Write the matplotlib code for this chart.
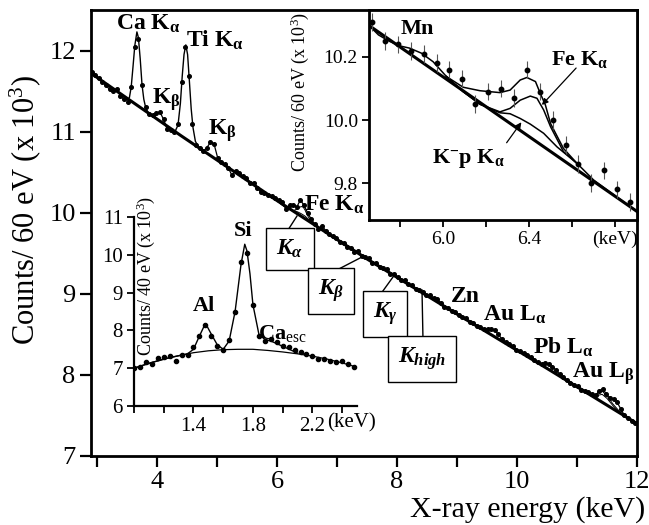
import numpy as np
import matplotlib
matplotlib.use('Agg')
import matplotlib.pyplot as plt
from matplotlib.lines import Line2D
from matplotlib.patches import FancyArrowPatch

plt.rcParams['font.family'] = ['Liberation Serif', 'DejaVu Serif']
plt.rcParams['mathtext.fontset'] = 'custom'
plt.rcParams['mathtext.rm'] = 'Liberation Serif'
plt.rcParams['mathtext.it'] = 'Liberation Serif:italic:bold'
plt.rcParams['mathtext.bf'] = 'Liberation Serif:bold'

W, H = 649, 525

# ---------------- main spectrum (counts / 60 eV, x 10^3) ----------------
E_start, E_step = 2.91, 0.06
counts = [
    11.73, 11.70, 11.66, 11.61, 11.57, 11.52, 11.50, 11.53, 11.44, 11.40,
    11.37, 11.55, 12.04, 12.14, 11.57, 11.30, 11.22, 11.20, 11.23, 11.24,
    11.15, 11.03, 11.02, 11.00, 11.10, 11.61, 12.04, 11.69, 11.10, 10.84,
    10.80, 10.76, 10.80, 10.87, 10.85, 10.68, 10.63, 10.60, 10.55, 10.46,
    10.52, 10.49, 10.45, 10.43, 10.37, 10.37, 10.31, 10.25, 10.24, 10.22,
    10.21, 10.18, 10.16, 10.13, 10.05, 10.09, 10.10, 10.07, 10.16, 10.09,
    10.00, 9.92, 9.86, 9.80, 9.84, 9.78, 9.74, 9.71, 9.69, 9.64,
    9.63, 9.58, 9.57, 9.52, 9.53, 9.47, 9.46, 9.44, 9.38, 9.38,
    9.33, 9.32, 9.30, 9.25, 9.24, 9.21, 9.17, 9.17, 9.12, 9.11,
    9.06, 9.05, 9.02, 8.98, 8.98, 8.95, 8.94, 8.89, 8.84, 8.83,
    8.79, 8.78, 8.74, 8.72, 8.70, 8.65, 8.64, 8.60, 8.59, 8.57,
    8.57, 8.56, 8.55, 8.50, 8.44, 8.41, 8.38, 8.36, 8.31, 8.29,
    8.27, 8.25, 8.22, 8.19, 8.16, 8.14, 8.15, 8.13, 8.10, 8.06,
    8.01, 7.97, 7.94, 7.90, 7.88, 7.86, 7.82, 7.80, 7.79, 7.77,
    7.75, 7.80, 7.83, 7.76, 7.72, 7.70, 7.66, 7.58, 7.50, 7.47,
    7.43, 7.41,
]
energy = E_start + E_step * np.arange(len(counts))
counts = np.array(counts)

bg_E = [2.9, 4.4, 6.0, 7.5, 9.0, 10.5, 12.0]
bg_counts = [11.72, 10.95, 10.15, 9.43, 8.75, 8.08, 7.40]

# fitted curves over the Ca K-alpha and Ti K-alpha peaks
ca_fit_E = [3.50, 3.54, 3.57, 3.60, 3.63, 3.665, 3.69, 3.72, 3.75, 3.78, 3.81, 3.86]
ca_fit = [11.39, 11.42, 11.55, 11.80, 12.06, 12.23, 12.16, 11.90, 11.58, 11.40, 11.30, 11.22]
ti_fit_E = [4.30, 4.35, 4.39, 4.42, 4.45, 4.48, 4.51, 4.54, 4.57, 4.60, 4.64, 4.70]
ti_fit = [11.00, 11.08, 11.35, 11.68, 11.95, 12.07, 11.95, 11.62, 11.28, 11.05, 10.88, 10.80]

# fitted components around Au L-beta
au_fit_E = [11.24, 11.36, 11.42, 11.50, 11.60, 11.72, 11.80]
au_fit1 = [7.74, 7.78, 7.80, 7.74, 7.64, 7.54, 7.50]
au_fit2 = [7.74, 7.75, 7.76, 7.71, 7.62, 7.53, 7.50]

# ---------------- inset 1 : Fe K-alpha / K-p region ----------------
in1_err = 0.028
in1_bg_E = [5.656, 6.902]
in1_bg = [10.30, 9.71]
fit_tot_E = [5.656, 5.70, 5.75, 5.80, 5.845, 5.90, 5.954, 6.016, 6.094, 6.172,
             6.265, 6.312, 6.359, 6.39, 6.43, 6.452, 6.476, 6.50, 6.56, 6.624,
             6.70, 6.80, 6.902]
fit_tot = [10.30, 10.27, 10.25, 10.235, 10.228, 10.212, 10.185, 10.138, 10.104, 10.093,
           10.087, 10.095, 10.127, 10.135, 10.122, 10.085, 10.048, 9.989, 9.91, 9.862,
           9.81, 9.76, 9.71]
fit_mid_E = [6.016, 6.094, 6.172, 6.265, 6.312, 6.359, 6.406, 6.437, 6.468, 6.50, 6.56, 6.624]
fit_mid = [10.138, 10.09, 10.05, 10.026, 10.037, 10.063, 10.076, 10.069, 10.032, 9.979, 9.90, 9.862]
fit_low_E = [6.016, 6.094, 6.172, 6.265, 6.312, 6.359, 6.406, 6.468, 6.53, 6.624]
fit_low = [10.138, 10.09, 10.05, 10.023, 10.02, 10.005, 9.987, 9.958, 9.915, 9.862]

# ---------------- inset 2 : Al / Si region (counts / 40 eV) ----------------
E2_start, E2_step = 1.00, 0.04
counts2 = [7.00, 7.04, 7.16, 7.11, 7.26, 7.29, 7.32, 7.20, 7.35, 7.36,
           7.55, 7.86, 8.13, 7.86, 7.60, 7.47, 7.75, 8.48, 9.80, 10.04,
           8.67, 7.86, 7.73, 7.77, 7.69, 7.60, 7.55, 7.49, 7.42, 7.38,
           7.33, 7.25, 7.25, 7.20, 7.16, 7.18, 7.11, 7.03]
energy2 = E2_start + E2_step * np.arange(len(counts2))
bg2_E = [1.0, 1.1, 1.2, 1.3, 1.4, 1.5, 1.6, 1.7, 1.8, 1.9, 2.0, 2.1, 2.2, 2.3, 2.4, 2.48]
bg2 = [7.00, 7.13, 7.24, 7.33, 7.41, 7.46, 7.49, 7.50, 7.50, 7.47, 7.43, 7.38, 7.32, 7.24, 7.14, 7.05]
fit2_E = [1.00, 1.12, 1.24, 1.36, 1.40, 1.44, 1.47, 1.49, 1.52, 1.56, 1.60, 1.64, 1.68,
          1.72, 1.745, 1.76, 1.78, 1.80, 1.84, 1.88, 1.92, 2.00, 2.10]
fit2 = [7.00, 7.15, 7.28, 7.38, 7.50, 7.85, 8.10, 8.12, 7.90, 7.62, 7.50, 7.72, 8.50,
        9.75, 10.28, 10.10, 9.50, 8.68, 7.90, 7.76, 7.72, 7.58, 7.40]

# ---------------- figure ----------------
fig = plt.figure(figsize=(W / 100, H / 100), dpi=100)

def fx(px):
    return px / W

def fy(py):
    return 1 - py / H

ax = fig.add_axes([fx(91), fy(456), fx(637) - fx(91), fy(10) - fy(456)])
ax.plot(bg_E, bg_counts, color='k', lw=2.2, zorder=3)
in_peak = ((energy > ca_fit_E[0]) & (energy < ca_fit_E[-1])) | \
          ((energy > ti_fit_E[0]) & (energy < ti_fit_E[-1]))
ax.plot(energy, np.where(in_peak, np.nan, counts), color='k', lw=0.9, zorder=4)
ax.plot(ca_fit_E, ca_fit, color='k', lw=1.0, zorder=4)
ax.plot(ti_fit_E, ti_fit, color='k', lw=1.0, zorder=4)
ax.plot(energy, counts, 'o', color='k', ms=2.6, zorder=5)
for xs, ys in [(fit_mid_E, fit_mid), (fit_low_E, fit_low), (au_fit_E, au_fit1), (au_fit_E, au_fit2)]:
    ax.plot(xs, ys, color='k', lw=0.7, zorder=4)
ax.set_xlim(2.9, 12.0)
ax.set_ylim(7.0, 12.5)
ax.set_xticks([4, 6, 8, 10, 12])
ax.set_xticks([3, 5, 7, 9, 11], minor=True)
ax.set_yticks([7, 8, 9, 10, 11, 12])
ax.tick_params(which='both', direction='out', length=8, width=1.6, labelsize=19, pad=3)
for s in ax.spines.values():
    s.set_linewidth(2)

fig.text(fx(25), fy(210), 'Counts/ 60 eV (x 10$^3$)', rotation=90, fontsize=22,
         ha='center', va='center')
fig.text(fx(645), fy(517), 'X-ray energy (keV)', fontsize=21.5, ha='right', va='baseline')

# peak labels in main axes
lab = dict(fontsize=17, fontweight='bold', ha='left', va='center')
fig.text(fx(116), fy(24), r'Ca K$_{\mathbf{α}}$', **lab)
fig.text(fx(186), fy(40), r'Ti K$_{\mathbf{α}}$', **lab)
fig.text(fx(152), fy(100), r'K$_{\mathbf{β}}$', **lab)
fig.text(fx(208), fy(131), r'K$_{\mathbf{β}}$', **lab)
fig.text(fx(304), fy(205), r'Fe K$_{\mathbf{α}}$', **lab)
fig.text(fx(451), fy(297), r'Zn', **lab)
fig.text(fx(483), fy(315), r'Au L$_{\mathbf{α}}$', **lab)
fig.text(fx(533), fy(347), r'Pb L$_{\mathbf{α}}$', **lab)
fig.text(fx(572), fy(374), r'Au L$_{\mathbf{β}}$', **lab)

# boxed K-line labels with leader lines
boxes = [
    (r'$K_{α}$', 290, 249, (288, 230), (297, 216)),
    (r'$K_{β}$', 331, 291, (333, 272), (362, 257)),
    (r'$K_{γ}$', 385, 314, (380, 295), (393, 277)),
    (r'$K_{high}$', 422, 359, (423, 340), (422, 290)),
]
for txt, cx, cy, p0, p1 in boxes:
    fig.add_artist(Line2D([fx(p0[0]), fx(p1[0])], [fy(p0[1]), fy(p1[1])],
                          color='k', lw=1.0, transform=fig.transFigure, zorder=6))
    fig.text(fx(cx), fy(cy), txt, fontsize=17, ha='center', va='center', zorder=7,
             bbox=dict(boxstyle='square,pad=0.42', fc='white', ec='k', lw=1.0))

# ---------------- inset 1 ----------------
ax1 = fig.add_axes([fx(369), fy(220), fx(637) - fx(369), fy(10) - fy(220)])
sel = (energy > 5.66) & (energy < 6.90)
ax1.plot(in1_bg_E, in1_bg, color='k', lw=2.2)
ax1.plot(fit_tot_E, fit_tot, color='k', lw=1.1)
ax1.plot(fit_mid_E, fit_mid, color='k', lw=1.1)
ax1.plot(fit_low_E, fit_low, color='k', lw=1.1)
ax1.errorbar(energy[sel], counts[sel], yerr=in1_err, fmt='o', color='k', ms=3.2,
             elinewidth=0.8, ecolor='#555555', capsize=0)
ax1.set_xlim(5.656, 6.902)
ax1.set_ylim(9.683, 10.349)
ax1.set_xticks([6.0, 6.4, 6.8])
ax1.set_xticklabels(['6.0', '6.4', '(keV)'])
ax1.set_xticks([5.8, 6.2, 6.6], minor=True)
ax1.set_yticks([9.8, 10.0, 10.2])
ax1.set_yticklabels(['9.8', '10.0', '10.2'])
ax1.tick_params(which='both', direction='out', length=5, width=1.3, labelsize=14, pad=3)
for s in ax1.spines.values():
    s.set_linewidth(2)
fig.text(fx(300), fy(92), 'Counts/ 60 eV (x 10$^3$)', rotation=90, fontsize=13,
         ha='center', va='center')
lab1 = dict(fontsize=16, fontweight='bold', ha='left', va='center')
fig.text(fx(401), fy(29), 'Mn', **lab1)
fig.text(fx(551), fy(60), r'Fe K$_{\mathbf{α}}$', **lab1)
fig.text(fx(432), fy(158), r'K$^{\mathbf{-}}$p K$_{\mathbf{α}}$', **lab1)
fig.add_artist(FancyArrowPatch((fx(578), fy(66)), (fx(540), fy(107)),
                               transform=fig.transFigure, arrowstyle='-|>',
                               mutation_scale=9, color='k', lw=0.9))
fig.add_artist(FancyArrowPatch((fx(505), fy(145)), (fx(523), fy(120)),
                               transform=fig.transFigure, arrowstyle='-|>',
                               mutation_scale=9, color='k', lw=0.9))

# ---------------- inset 2 ----------------
ax2 = fig.add_axes([fx(134), fy(406), fx(357) - fx(134), fy(217) - fy(406)])
ax2.patch.set_alpha(0)
ax2.plot(bg2_E, bg2, color='k', lw=0.9)
ax2.plot(fit2_E, fit2, color='k', lw=1.0)
ax2.plot(energy2, counts2, 'o', color='k', ms=3.0)
ax2.set_xlim(1.0, 2.50)
ax2.set_ylim(6, 11)
ax2.set_xticks([1.4, 1.8, 2.2])
ax2.set_xticks([1.0, 1.2, 1.6, 2.0, 2.4], minor=True)
ax2.set_yticks([6, 7, 8, 9, 10, 11])
ax2.tick_params(which='both', direction='out', length=5, width=1.3, labelsize=15, pad=3)
ax2.spines['top'].set_visible(False)
ax2.spines['right'].set_visible(False)
for s in ['left', 'bottom']:
    ax2.spines[s].set_linewidth(1.6)
fig.text(fx(146), fy(276), 'Counts/ 40 eV (x 10$^3$)', rotation=90, fontsize=13,
         ha='center', va='center')
fig.text(fx(352), fy(423), '(keV)', fontsize=15, ha='center', va='center')
lab2 = dict(fontsize=16, fontweight='bold', ha='center', va='center')
fig.text(fx(204), fy(306), 'Al', **lab2)
fig.text(fx(243), fy(231), 'Si', **lab2)
fig.text(fx(258), fy(334), r'Ca$_{\mathrm{esc}}$', fontsize=16, fontweight='bold',
         ha='left', va='center')

fig.savefig('out.png', dpi=100)
